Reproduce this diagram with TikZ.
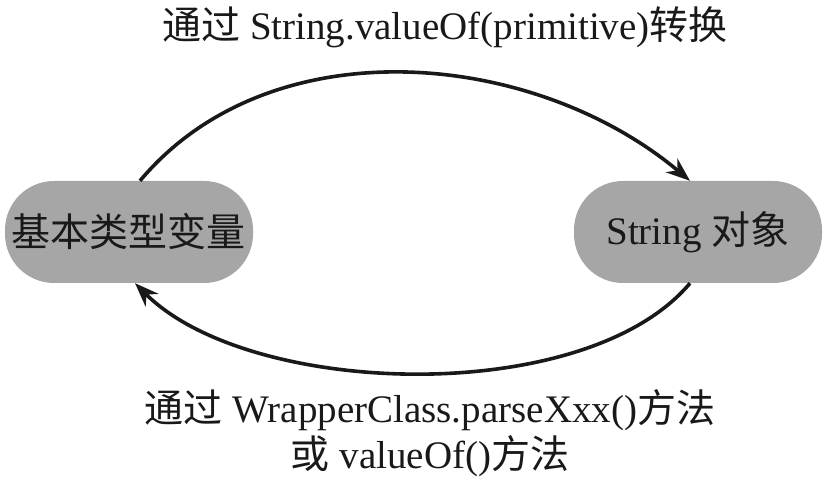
\documentclass[tikz,border=0pt]{standalone}
\usepackage{fontspec}
\setmainfont{Liberation Serif}
\newfontfamily\cjk{Noto Sans CJK SC}
\usetikzlibrary{arrows.meta,positioning}
\newcommand{\zh}[1]{{\cjk #1}}

\begin{document}
\begin{tikzpicture}[x = 1pt, y = 1pt,
  every node/.style = {font=\fontsize{39}{46}\selectfont, text=black!90},
  pill/.style = {fill=gray!70, rounded corners=49pt, minimum width=248pt, minimum height=102pt, inner sep=0pt},
  conv/.style = {-{Stealth[length=24pt, width=18pt]}, line width=3.6pt, black!90}]
\useasboundingbox (0,0) rectangle (828,477);

\node[pill] (prim) at (129, 245) {\zh{基本类型变量}};
\node[pill] (str) at (698, 245) {String \zh{对象}};

\node (top) at (445, 450) {\zh{通过} String.valueOf(primitive)\zh{转换}};
\node[align=center] (bot) at (430, 44) {\zh{通过} WrapperClass.parseXxx()\zh{方法}\\ \zh{或} valueOf()\zh{方法}};

\draw[conv] ([xshift=11pt]prim.north) to[out=50, in=140, looseness=0.95] ([xshift=-8pt]str.north);
\draw[conv] ([xshift=-8pt]str.south) to[out=-130, in=-45, looseness=0.75] ([xshift=6pt]prim.south);

\end{tikzpicture}
\end{document}
